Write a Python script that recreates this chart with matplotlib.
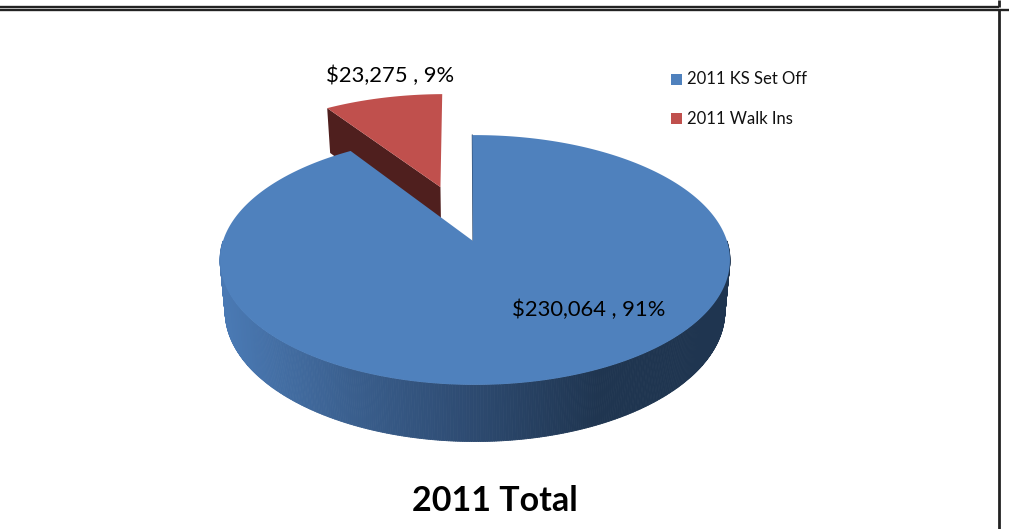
import matplotlib
matplotlib.use('Agg')
import matplotlib.pyplot as plt
from matplotlib.collections import PolyCollection
from matplotlib.colors import LinearSegmentedColormap
import numpy as np

labels = ['2011 KS Set Off', '2011 Walk Ins']
values = [230064, 23275]
value_labels = ['$230,064 , 91%', '$23,275 , 9%']
title = '2011 Total'

blue = '#4f81bd'
red = '#c0504d'
dark_red = '#4f1f1e'
side_cmap = LinearSegmentedColormap.from_list('side', ['#4a79b3', '#3a5f8e', '#2d4a70', '#1f3550', '#1f3550'])

plt.rcParams['font.family'] = ['Lato', 'DejaVu Sans']


# disk -> pixels, tilted with some perspective (h is the drop of the pie's bottom face)
def project(X, Y, h=0.0, s=1.0):
    den = 1 + 0.152 * Y
    return 475 + 252 * s * X / den, 241 - (122 * s * Y - h) / den


def rim(t0, t1, n=200, shift=(0, 0), h=0.0, s=1.0):
    t = np.radians(np.linspace(t0, t1, n))
    return project(np.sin(t) + shift[0], np.cos(t) + shift[1], h, s)


fig = plt.figure(figsize=(10.09, 5.29), dpi=100)
ax = fig.add_axes([0, 0, 1, 1])
ax.set_xlim(0, 1009)
ax.set_ylim(529, 0)
ax.axis('off')

# frame of the page this was cut from
ax.plot([0, 999], [7, 7], color='#222222', lw=1.7, solid_capstyle='butt')
ax.plot([0, 1009], [9.8, 9.8], color='#222222', lw=1.7, solid_capstyle='butt')
ax.plot([999, 999], [0, 7], color='#222222', lw=2, solid_capstyle='butt')
ax.plot([999, 999], [10, 529], color='#222222', lw=2, solid_capstyle='butt')

start = -0.7
sweep_blue = 360 * values[0] / sum(values)
sweep_red = 360 * values[1] / sum(values)
cut = start - sweep_red

# exploded slice, pushed out along its bisector
mid = np.radians(start - sweep_red / 2)
shift = (0.496 * np.sin(mid), 0.496 * np.cos(mid))
depth = 50.5
low = 0.98
rx, ry = rim(cut, start, shift=shift)
ax0, ay0 = project(shift[0], shift[1])
bx, by = rim(cut, start, 2, shift=shift, h=depth, s=low)
ax1, ay1 = project(shift[0], shift[1], depth, low)
ax.fill([rx[0], ax0, ax1, bx[0]], [ry[0], ay0, ay1, by[0]], color=dark_red, lw=0, zorder=2)
ax.fill(np.r_[rx, ax0], np.r_[ry, ay0], color=red, lw=0, zorder=3)

# side of the big slice, shaded left to right
ux, uy = rim(90, 270, 400)
lx, ly = rim(90, 270, 400, h=depth, s=low)
quads = [[(ux[i], uy[i]), (ux[i + 1], uy[i + 1]), (lx[i + 1], ly[i + 1]), (lx[i], ly[i])] for i in range(len(ux) - 1)]
cols = side_cmap(np.clip((ux[:-1] - 225) / 500, 0, 1))
ax.add_collection(PolyCollection(quads, facecolors=cols, edgecolors=cols, linewidths=0.6, zorder=4))

# top of the big slice
tx, ty = rim(start, start + sweep_blue, 600)
ax.fill(np.r_[tx, 473], np.r_[ty, 241], color=blue, lw=0, zorder=5)
ax.plot([tx[0], 473], [ty[0], 241], color='#2b4566', lw=0.8, zorder=4.5)

# value labels
ax.text(390, 76, value_labels[1], fontsize=15.8, ha='center', va='center', color='black', zorder=6)
ax.text(589, 310, value_labels[0], fontsize=15.8, ha='center', va='center', color='black', zorder=6)

# legend
for y, lab, c in zip([79, 118], labels, [blue, red]):
    ax.fill([671, 682, 682, 671], [y - 5.5, y - 5.5, y + 5.5, y + 5.5], color=c, lw=0)
    ax.text(687, y + 0.5, lab, fontsize=12, ha='left', va='center', color='#111111')

ax.text(495, 501, title, fontsize=24.5, fontweight='bold', ha='center', va='center', color='black')

fig.savefig('out.png', dpi=100)
